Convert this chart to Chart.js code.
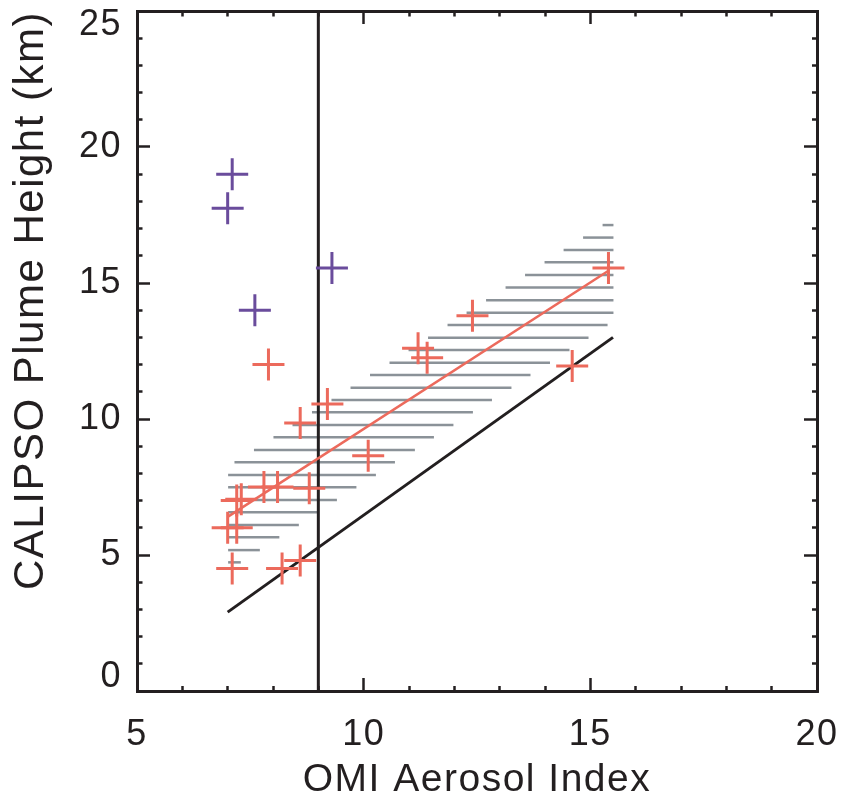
<!DOCTYPE html>
<html>
<head>
<meta charset="utf-8">
<script src="https://cdn.jsdelivr.net/npm/chart.js@4.4.0/dist/chart.umd.min.js"></script>
<style>
  html, body { margin: 0; padding: 0; background: #fff; }
  #wrap { width: 842px; height: 800px; position: relative; }
</style>
</head>
<body>
<div id="wrap"><canvas id="plumeChart"></canvas></div>
<script>
// plumes that rise above the fit (purple)
var highX = [7.1, 7.0, 7.6, 9.3];
var highY = [19.0, 17.75, 14.0, 15.55];

// the other plumes (red)
var plumeX = [15.4, 12.4, 11.2, 11.4, 14.6, 7.9, 9.2, 8.6, 10.1, 7.8, 8.1, 8.8, 7.2, 7.3, 7.0, 7.2, 7.1, 8.2, 8.6];
var plumeY = [15.55, 13.8, 12.6, 12.25, 11.95, 12.0, 10.55, 9.85, 8.65, 7.5, 7.5, 7.45, 7.0, 7.05, 6.0, 6.0, 4.5, 4.5, 4.8];

// fit through the red plumes
var fitX = [7.0, 15.4];
var fitY = [6.4, 15.45];

// lower line
var lowX = [7.0, 15.5];
var lowY = [2.9, 13.0];

// AI = 9 cut
var cutX = [9, 9];
var cutY = [0, 25];

// hatched band, one horizontal stroke per row
var hatchY = [4.73, 5.18, 5.65, 6.10, 6.57, 7.02, 7.49, 7.94, 8.41, 8.86, 9.33, 9.78, 10.25, 10.70,
              11.15, 11.62, 12.07, 12.54, 12.99, 13.46, 13.91, 14.37, 14.83, 15.29, 15.76, 16.21, 16.67, 17.13];
var hatchFrom = [7.01, 7.01, 7.01, 7.01, 7.01, 7.01, 7.01, 7.01, 7.15, 7.58, 8.01, 8.43, 8.86, 9.29,
                 9.71, 10.14, 10.57, 10.99, 11.42, 11.85, 12.27, 12.70, 13.13, 13.56, 13.99, 14.41, 14.84, 15.27];
var hatchTo = [7.29, 7.71, 8.14, 8.57, 8.99, 9.41, 9.84, 10.27, 10.69, 11.13, 11.55, 11.98, 12.41, 12.83,
               13.26, 13.68, 14.11, 14.54, 14.96, 15.38, 15.51, 15.51, 15.51, 15.51, 15.51, 15.51, 15.51, 15.51];

var xTicks = [5, 10, 15, 20];
var yTicks = [0, 5, 10, 15, 20, 25];

var ink = '#231f20';
var purple = '#6a4c9c';
var red = '#ec6a5c';
var grey = '#8b9298';

Chart.defaults.font.family = "'Liberation Sans', Arial, sans-serif";
Chart.defaults.color = ink;

function pts(xs, ys) {
  return xs.map(function (x, i) { return {x: x, y: ys[i]}; });
}

function crosses(xs, ys, col) {
  return {data: pts(xs, ys), pointStyle: 'cross', pointRadius: 16, pointBorderWidth: 3,
          pointBorderColor: col, borderColor: col, showLine: false};
}

function line(xs, ys, col, w) {
  return {data: pts(xs, ys), showLine: true, borderColor: col, borderWidth: w, pointRadius: 0};
}

var datasets = [
  crosses(highX, highY, purple),
  crosses(plumeX, plumeY, red),
  line(fitX, fitY, red, 2.5),
  line(lowX, lowY, ink, 3),
  line(cutX, cutY, ink, 3)
];
hatchY.forEach(function (y, i) {
  datasets.push(line([hatchFrom[i], hatchTo[i]], [y, y], grey, 2.5));
});

// minor ticks: only part of the -13px tick is drawn
function tickDash(fromBorder) {
  return function (c) {
    if (!c.tick || c.tick.value % 5 === 0) return [];
    return fromBorder ? [7, 40] : [0, 7.5, 40];
  };
}

function grid(fromBorder) {
  return {drawOnChartArea: false, drawTicks: true, tickLength: -13, tickWidth: 2.5,
          tickColor: ink, tickBorderDash: tickDash(fromBorder)};
}

function fixSize(w, h) {
  return function (s) {
    if (w !== null) s.width = w;
    if (h !== null) s.height = h;
    s.paddingTop = s.paddingBottom = s.paddingLeft = s.paddingRight = 0;
  };
}

var border = {display: true, color: ink, width: 3};

var spacing = {
  id: 'spacing',
  beforeLayout: function (chart) { chart.ctx.letterSpacing = '1.5px'; },
  beforeDraw: function (chart) { chart.ctx.letterSpacing = '1.5px'; }
};

new Chart(document.getElementById('plumeChart'), {
  type: 'scatter',
  data: {datasets: datasets},
  plugins: [spacing],
  options: {
    responsive: true,
    maintainAspectRatio: false,
    animation: false,
    events: [],
    layout: {padding: 0, autoPadding: false},
    plugins: {legend: {display: false}, tooltip: {enabled: false}},
    scales: {
      x: {
        position: 'bottom', min: 5, max: 20,
        grid: grid(true), border: border,
        ticks: {stepSize: 1, autoSkip: false, maxRotation: 0, padding: 35, font: {size: 36},
                callback: function (v) { return xTicks.indexOf(v) >= 0 ? String(v) : ''; }},
        title: {display: true, text: 'OMI Aerosol Index', font: {size: 39, lineHeight: 1}, padding: 0},
        afterFit: fixSize(null, 109)
      },
      x2: {
        position: 'top', min: 5, max: 20,
        grid: grid(false), border: border,
        ticks: {display: false, stepSize: 1},
        afterFit: fixSize(null, 11)
      },
      y: {
        position: 'left', min: 0, max: 25,
        grid: grid(false), border: border,
        ticks: {stepSize: 1, autoSkip: false, padding: 28, font: {size: 36, lineHeight: '28px'},
                callback: function (v) {
                  if (yTicks.indexOf(v) < 0) return '';
                  if (v === 25) return ['', '25'];
                  if (v === 0) return ['0', ''];
                  return String(v);
                }},
        title: {display: true, text: 'CALIPSO Plume Height (km)', align: 'end',
                font: {size: 42, lineHeight: 1}, padding: {top: 10, bottom: 0}},
        afterFit: fixSize(137, null)
      },
      y2: {
        position: 'right', min: 0, max: 25,
        grid: grid(true), border: border,
        ticks: {display: false, stepSize: 1},
        afterFit: fixSize(25, null)
      }
    }
  }
});
</script>
</body>
</html>
